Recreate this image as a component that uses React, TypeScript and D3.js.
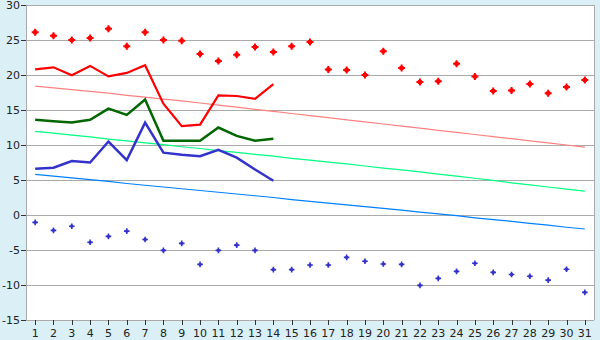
import React from "react";
import * as d3 from "d3";

const days = d3.range(1, 32);
const recordMax = [26.1, 25.6, 25.0, 25.3, 26.6, 24.1, 26.1, 25.0, 24.9, 23.0, 22.0, 22.9, 24.0, 23.3, 24.1, 24.7, 20.8, 20.7, 20.0, 23.4, 21.0, 19.0, 19.1, 21.6, 19.8, 17.7, 17.8, 18.7, 17.4, 18.3, 19.3];
const recordMin = [-1.05, -2.2, -1.6, -3.9, -3.05, -2.3, -3.5, -5.05, -4.05, -7.05, -5.05, -4.3, -5.05, -7.8, -7.8, -7.15, -7.15, -6.05, -6.6, -7.0, -7.05, -10.05, -9.05, -8.05, -6.9, -8.2, -8.5, -8.75, -9.3, -7.75, -11.05];
const actualMax = [20.8, 21.1, 19.95, 21.3, 19.8, 20.3, 21.4, 15.9, 12.7, 12.9, 17.1, 17.0, 16.6, 18.7];
const actualMean = [13.6, 13.4, 13.2, 13.6, 15.2, 14.3, 16.5, 10.6, 10.6, 10.6, 12.5, 11.3, 10.6, 10.9];
const actualMin = [6.6, 6.75, 7.7, 7.5, 10.5, 7.85, 13.2, 8.9, 8.6, 8.4, 9.3, 8.2, 6.5, 4.9];
const normalMax = [18.4, 18.15, 17.9, 17.65, 17.4, 17.1, 16.85, 16.55, 16.3, 16.0, 15.7, 15.4, 15.1, 14.8, 14.5, 14.2, 13.9, 13.6, 13.3, 13.0, 12.7, 12.4, 12.1, 11.8, 11.5, 11.2, 10.9, 10.6, 10.3, 10.0, 9.7];
const normalMean = [11.95, 11.7, 11.4, 11.15, 10.85, 10.6, 10.3, 10.05, 9.75, 9.5, 9.2, 8.95, 8.65, 8.4, 8.1, 7.85, 7.55, 7.3, 7.0, 6.7, 6.45, 6.15, 5.85, 5.55, 5.25, 4.95, 4.6, 4.3, 4.0, 3.7, 3.4];
const normalMin = [5.8, 5.55, 5.3, 5.05, 4.8, 4.5, 4.25, 4.0, 3.75, 3.5, 3.25, 3.0, 2.75, 2.5, 2.2, 1.95, 1.7, 1.45, 1.2, 0.95, 0.7, 0.4, 0.15, -0.1, -0.4, -0.65, -0.9, -1.2, -1.45, -1.75, -2.0];
const yTicks = [-15, -10, -5, 0, 5, 10, 15, 20, 25, 30];

export default function App() {
  const W = 600, H = 340;
  const x0 = 26, x1 = 594, y0 = 320, y1 = 5;
  const x = d3.scalePoint<number>().domain(days).range([x0, x1]).padding(0.5);
  const y = d3.scaleLinear().domain([-15, 30]).range([y0, y1]);
  const line = (vals: number[]) =>
    d3.line<number>().x((_, i) => x(days[i])!).y((v) => y(v))(vals) || "";
  const cross = (cx: number, cy: number, r: number, t: number) =>
    `M${cx - t},${cy - r}h${2 * t}v${r - t}h${r - t}v${2 * t}h${-(r - t)}v${r - t}h${-2 * t}v${-(r - t)}h${-(r - t)}v${-2 * t}h${r - t}z`;
  const marker = (cx: number, cy: number, r: number, t: number, c: number) =>
    cross(cx, cy, r, t) + `M${cx - c},${cy - c}h${2 * c}v${2 * c}h${-2 * c}z`;
  const font = "DejaVu Sans, Verdana, sans-serif";
  return (
    <svg width={W} height={H} style={{ position: "absolute", left: 0, top: 0, display: "block" }}>
      <rect x={0} y={0} width={W} height={H} fill="#daf0f6" />
      <rect x={x0} y={y1} width={x1 - x0} height={y0 - y1} fill="#ffffff" />
      {yTicks.map((t) => (
        <g key={t}>
          <line x1={x0} x2={x1} y1={Math.round(y(t)) + 0.5} y2={Math.round(y(t)) + 0.5} stroke="#aaaaaa" strokeWidth={1} />
          <line x1={x0 - 5} x2={x0} y1={Math.round(y(t)) + 0.5} y2={Math.round(y(t)) + 0.5} stroke="#333" strokeWidth={1} />
          <text x={x0 - 6} y={y(t)} dy="0.36em" textAnchor="end" fontFamily={font} fontSize={11} fill="#222">{t}</text>
        </g>
      ))}
      <line x1={x0 + 0.5} x2={x0 + 0.5} y1={y1} y2={y0} stroke="#aaaaaa" />
      <line x1={x1 + 0.5} x2={x1 + 0.5} y1={y1} y2={y0} stroke="#aaaaaa" />
      {days.map((d) => (
        <g key={d}>
          <line x1={Math.round(x(d)!) + 0.5} x2={Math.round(x(d)!) + 0.5} y1={y0} y2={y0 + 5} stroke="#333" />
          <text x={x(d)} y={y0 + 13} dy="0.36em" textAnchor="middle" fontFamily={font} fontSize={11} fill="#222">{d}</text>
        </g>
      ))}
      <path d={line(normalMax)} fill="none" stroke="#ff8080" strokeWidth={1.2} />
      <path d={line(normalMean)} fill="none" stroke="#00ff80" strokeWidth={1.2} />
      <path d={line(normalMin)} fill="none" stroke="#0080ff" strokeWidth={1.2} />
      <path d={line(actualMax)} fill="none" stroke="#ff0000" strokeWidth={2.2} />
      <path d={line(actualMean)} fill="none" stroke="#006600" strokeWidth={2.5} />
      <path d={line(actualMin)} fill="none" stroke="#3333cc" strokeWidth={2.5} />
      {recordMax.map((v, i) => (
        <path key={"rx" + i} d={marker(x(days[i])!, y(v), 3.5, 1, 2)} fill="#ff0000" />
      ))}
      {recordMin.map((v, i) => (
        <path key={"rn" + i} d={marker(x(days[i])!, y(v), 2.8, 0.8, 1.4)} fill="#3333cc" />
      ))}
    </svg>
  );
}
